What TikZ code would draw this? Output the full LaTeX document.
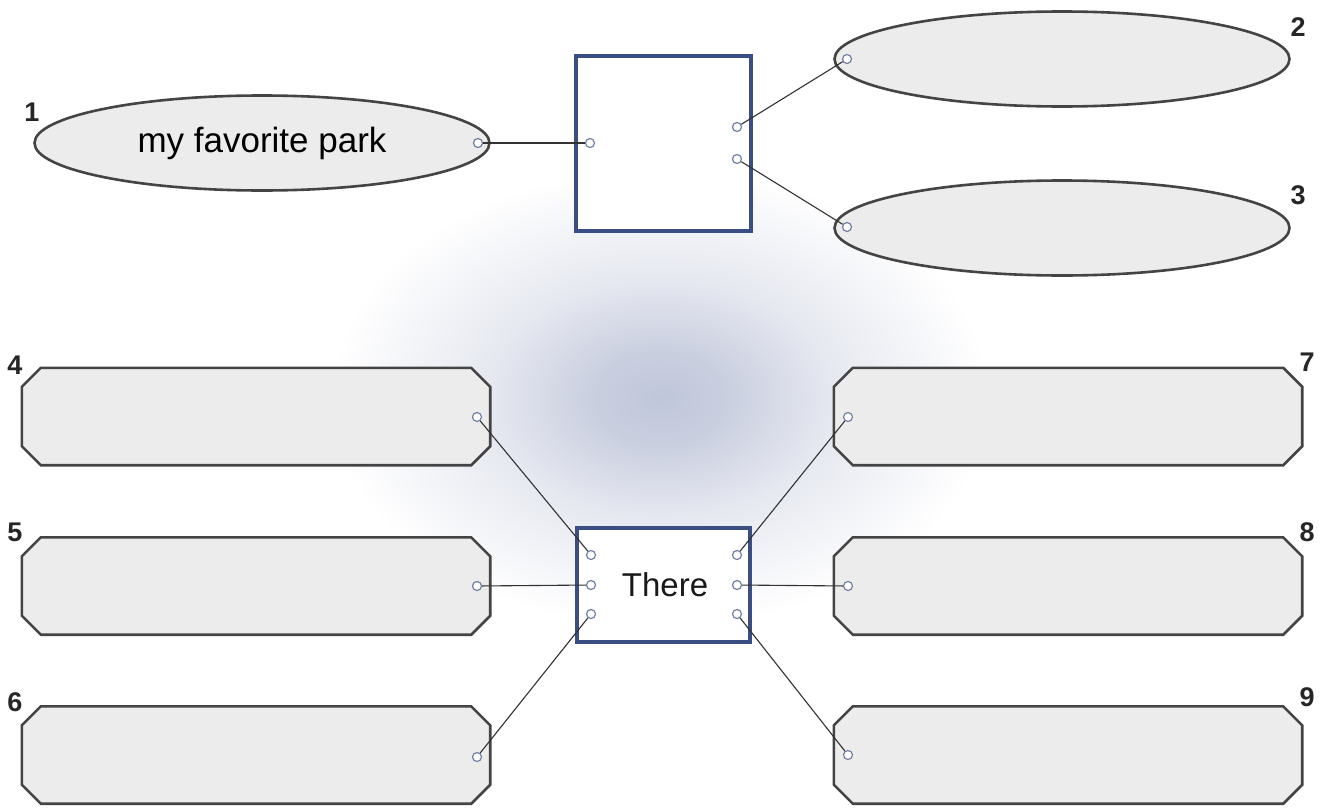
\documentclass[tikz,border=0pt]{standalone}
\usepackage{fontspec}
\setmainfont{Liberation Sans}
\usetikzlibrary{shapes.geometric}
\definecolor{edgec}{RGB}{68,68,68}
\definecolor{boxfill}{RGB}{236,236,236}
\definecolor{navy}{RGB}{58,78,132}
\definecolor{dotc}{RGB}{112,128,165}
\definecolor{glowc}{RGB}{192,198,218}
\definecolor{linec}{RGB}{50,50,50}
\pgfdeclareradialshading{glowshade}{\pgfpoint{0bp}{0bp}}{color(0bp)=(glowc); color(5bp)=(glowc!85!white); color(13bp)=(glowc!40!white); color(25bp)=(white); color(50bp)=(white)}
\tikzset{
  oval/.style={ellipse, draw=edgec, line width=2.6pt, fill=boxfill, minimum width=455pt, minimum height=95pt, inner sep=0pt},
  slotbox/.style={rectangle, draw=none, minimum width=468pt, minimum height=97pt, inner sep=0pt},
  slotline/.style={draw=edgec, line width=2.6pt, fill=boxfill, line join=miter},
  frame/.style={rectangle, draw=navy, line width=4.5pt, fill=white, inner sep=0pt},
  dot/.style={circle, draw=dotc, line width=1.2pt, fill=white, minimum size=9pt, inner sep=0pt},
  conn/.style={draw=linec, line width=1.1pt},
  num/.style={font=\fontsize{27}{27}\selectfont\bfseries, text=black!85, inner sep=0pt},
  big/.style={font=\fontsize{33}{33}\selectfont, text=black!90}
}
\begin{document}
\begin{tikzpicture}[x=1pt,y=-1pt]
\useasboundingbox (0,0) rectangle (1325,811);
\fill[white] (0,0) rectangle (1325,811);
% soft blue glow
\shade[shading=glowshade] (660,398) ellipse (330 and 230);

% ovals
\node[oval] (e1) at (262,143) {\fontsize{35}{35}\selectfont my favorite park};
\node[oval] (e2) at (1062,59) {};
\node[oval] (e3) at (1062,228) {};

% frames
\node[frame, minimum width=175pt, minimum height=175pt] (s1) at (663.5,143.5) {};
\node[frame, minimum width=173pt, minimum height=114pt] (s2) at (663.5,585) {};
\node[big] (there) at (665,585) {There};

% chamfered slots
\foreach \n/\cx/\cy in {b4/256/416.5, b5/256/586, b6/256/755, b7/1068/416.5, b8/1068/586, b9/1068/755} {
  \node[slotbox] (\n) at (\cx,\cy) {};
  \path[slotline] ([xshift=19pt]\n.north west) -- ([xshift=-19pt]\n.north east)
    -- ([yshift=-19pt]\n.north east) -- ([yshift=19pt]\n.south east)
    -- ([xshift=-19pt]\n.south east) -- ([xshift=19pt]\n.south west)
    -- ([yshift=19pt]\n.south west) -- ([yshift=-19pt]\n.north west) -- cycle;
}

% numbers
\node[num] (n1) at (32,112) {1};
\node[num] (n2) at (1298,27) {2};
\node[num] (n3) at (1298,195) {3};
\node[num] (n4) at (15,365) {4};
\node[num] (n5) at (15,532) {5};
\node[num] (n6) at (15,702) {6};
\node[num] (n7) at (1307,362) {7};
\node[num] (n8) at (1307,532) {8};
\node[num] (n9) at (1307,697) {9};

% dots
\node[dot] (e1d) at (478,143) {};
\node[dot] (s1l) at (590,143) {};
\node[dot] (s1a) at (737,127) {};
\node[dot] (s1b) at (737,159) {};
\node[dot] (e2d) at (847,59) {};
\node[dot] (e3d) at (847,227) {};
\node[dot] (b4d) at (477,417) {};
\node[dot] (b5d) at (477,586) {};
\node[dot] (b6d) at (477,757) {};
\node[dot] (b7d) at (848,417) {};
\node[dot] (b8d) at (848,586) {};
\node[dot] (b9d) at (848,755) {};
\node[dot] (sl1) at (591,555) {};
\node[dot] (sl2) at (591,585) {};
\node[dot] (sl3) at (591,614) {};
\node[dot] (sr1) at (737,555) {};
\node[dot] (sr2) at (737,585) {};
\node[dot] (sr3) at (737,614) {};

% connectors
\draw[conn] (e1d) -- (s1l);
\draw[conn] (s1a) -- (e2d);
\draw[conn] (s1b) -- (e3d);
\draw[conn] (b4d) -- (sl1);
\draw[conn] (b5d) -- (sl2);
\draw[conn] (b6d) -- (sl3);
\draw[conn] (sr1) -- (b7d);
\draw[conn] (sr2) -- (b8d);
\draw[conn] (sr3) -- (b9d);
\end{tikzpicture}
\end{document}
